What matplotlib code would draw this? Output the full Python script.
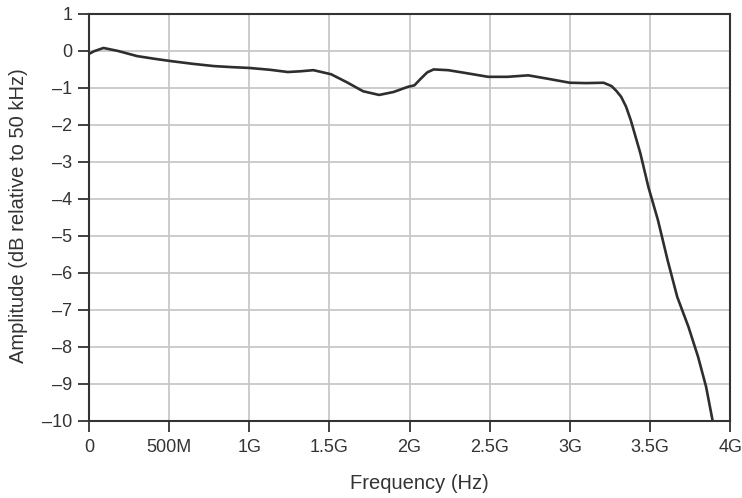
import numpy as np
import matplotlib.pyplot as plt

plt.rcParams['font.family'] = ['Liberation Sans', 'DejaVu Sans']

# frequency in GHz, amplitude in dB
freq_ghz = [0.0, 0.03, 0.09, 0.18, 0.30, 0.42, 0.52, 0.65, 0.78, 0.90, 1.0,
            1.13, 1.24, 1.32, 1.40, 1.51, 1.61, 1.71, 1.81, 1.90, 1.99,
            2.03, 2.07, 2.11, 2.15, 2.24, 2.34, 2.49, 2.61, 2.74, 2.86,
            3.0, 3.10, 3.21, 3.26, 3.29, 3.32, 3.35, 3.38, 3.44, 3.49,
            3.55, 3.61, 3.67, 3.74, 3.80, 3.85, 3.87, 3.89]
amp_db = [-0.08, -0.01, 0.08, 0.0, -0.14, -0.22, -0.28, -0.35, -0.41, -0.44, -0.46,
          -0.51, -0.57, -0.55, -0.52, -0.63, -0.85, -1.09, -1.19, -1.11, -0.97,
          -0.93, -0.75, -0.58, -0.50, -0.52, -0.59, -0.70, -0.70, -0.66, -0.75,
          -0.86, -0.87, -0.86, -0.95, -1.08, -1.24, -1.50, -1.87, -2.77, -3.68,
          -4.58, -5.66, -6.65, -7.46, -8.27, -9.08, -9.53, -9.98]

xticks = [0, 0.5, 1, 1.5, 2, 2.5, 3, 3.5, 4]
xticklabels = ['0', '500M', '1G', '1.5G', '2G', '2.5G', '3G', '3.5G', '4G']
yticks = list(range(1, -11, -1))
yticklabels = [str(v).replace('-', '\u2013') for v in yticks]

txt = '#333333'
fig = plt.figure(figsize=(7.42, 4.98), dpi=100, facecolor='white')
ax = fig.add_axes([0.12, 0.155, 0.864, 0.817])

ax.plot(freq_ghz, amp_db, color='#2e2e2e', lw=1.9, solid_joinstyle='round')

ax.set_xlim(0, 4)
ax.set_ylim(-10, 1)
ax.set_xticks(xticks)
ax.set_xticklabels(xticklabels)
ax.set_yticks(yticks)
ax.set_yticklabels(yticklabels)
ax.grid(True, color='#c8c8cc', lw=1.3)
ax.set_axisbelow(True)

for s in ax.spines.values():
    s.set_color('#333333')
    s.set_linewidth(1.5)

ax.tick_params(axis='both', direction='out', length=8, width=1.3,
               color='#333333', labelsize=13, labelcolor=txt, pad=4)
ax.tick_params(axis='x', pad=5)

ax.set_xlabel('Frequency (Hz)', fontsize=14.5, color=txt)
ax.set_ylabel('Amplitude (dB relative to 50 kHz)', fontsize=14.5, color=txt)
ax.xaxis.set_label_coords(0.515, -0.13)
ax.yaxis.set_label_coords(-0.095, 0.505)

fig.savefig('out.png', dpi=100, facecolor='white')
